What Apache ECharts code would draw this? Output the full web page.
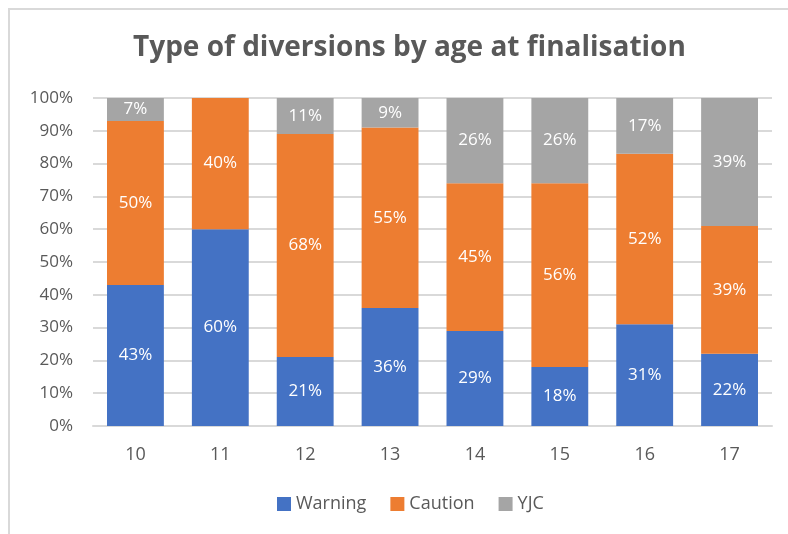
<!DOCTYPE html>
<html>
<head>
<meta charset="utf-8">
<script src="https://cdn.jsdelivr.net/npm/echarts@6/dist/echarts.min.js"></script>
<style>
  html, body { margin: 0; padding: 0; background: #fff; }
  #chart { width: 788px; height: 534px; }
  .frame { position: absolute; left: 8px; top: 8px; width: 800px; height: 560px; border: 2px solid #d9d9d9; box-sizing: border-box; pointer-events: none; }
</style>
</head>
<body>
<div id="chart"></div>
<div class="frame"></div>
<script>
// ages at finalisation
const ages = ['10', '11', '12', '13', '14', '15', '16', '17'];
// share of diversions (%)
const warning = [43, 60, 21, 36, 29, 18, 31, 22];
const caution = [50, 40, 68, 55, 45, 56, 52, 39];
const yjc = [7, 0, 11, 9, 26, 26, 17, 39];

const font = 'Open Sans';
const grey = '#595959';

const label = {
    show: true,
    color: '#fff',
    fontSize: 17,
    fontFamily: font,
    formatter: p => (p.value > 0 ? p.value + '%' : '')
};

const myChart = echarts.init(document.getElementById('chart'));
myChart.setOption({
    animation: false,
    title: {
        text: 'Type of diversions by age at finalisation',
        left: 128,
        top: 29,
        textStyle: { fontFamily: font, fontSize: 28, fontWeight: 'bold', color: grey }
    },
    grid: { left: 93, right: 16, top: 98, bottom: 108, containLabel: false },
    legend: {
        bottom: 16,
        left: 272,
        itemWidth: 14,
        itemHeight: 14,
        itemGap: 24,
        icon: 'rect',
        textStyle: { fontFamily: font, fontSize: 18, color: grey }
    },
    xAxis: {
        type: 'category',
        data: ages,
        axisLine: { lineStyle: { color: '#d9d9d9', width: 2 } },
        axisTick: { show: false },
        axisLabel: { fontFamily: font, fontSize: 18, color: grey, margin: 20 }
    },
    yAxis: {
        type: 'value',
        min: 0,
        max: 100,
        interval: 10,
        axisLine: { show: false },
        axisTick: { show: false },
        splitLine: { lineStyle: { color: '#d9d9d9', width: 2 } },
        axisLabel: { fontFamily: font, fontSize: 17, color: grey, margin: 20, formatter: '{value}%' }
    },
    series: [
        { name: 'Warning', type: 'bar', stack: 'total', data: warning, color: '#4472C4', barCategoryGap: '33%', label },
        { name: 'Caution', type: 'bar', stack: 'total', data: caution, color: '#ED7D31', label },
        { name: 'YJC', type: 'bar', stack: 'total', data: yjc, color: '#A5A5A5', label }
    ]
});
</script>
</body>
</html>
